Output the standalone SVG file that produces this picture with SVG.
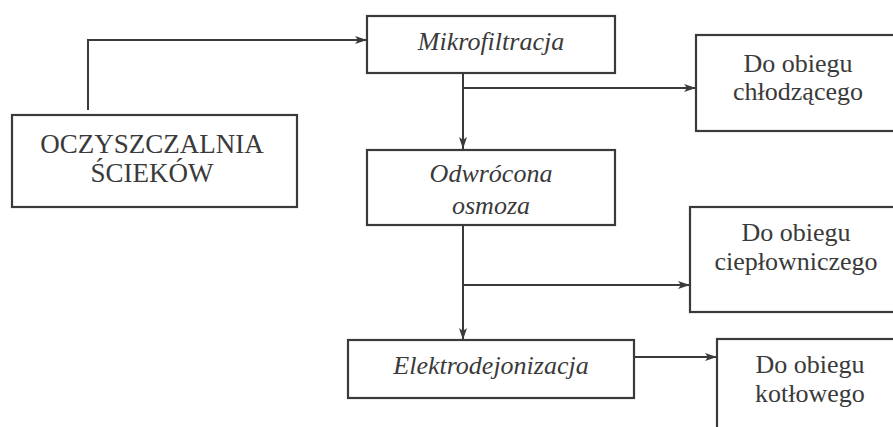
<svg xmlns="http://www.w3.org/2000/svg" width="893" height="427" viewBox="0 0 893 427">
<style>
.box{fill:#fff;stroke:#3a3a3a;stroke-width:2.2}
.t{font-size:26px;fill:#3a3a3a;text-anchor:middle}
.big{font-size:27px}
.i{font-style:italic}
.c{fill:none;stroke:#3a3a3a;stroke-width:2;marker-end:url(#ah)}
</style>
<defs>
<marker id="ah" markerWidth="13" markerHeight="10" refX="12" refY="5" orient="auto" markerUnits="userSpaceOnUse">
<path d="M0,1 L12,5 L0,9 L3,5 Z" fill="#3a3a3a"/>
</marker>
</defs>
<rect width="893" height="427" fill="#fff"/>
<g id="connectors">
<path class="c" d="M88,110 L88,40 L367,40"/>
<path class="c" d="M463,73 L463,149"/>
<path class="c" d="M463,88 L696,88"/>
<path class="c" d="M463,225 L463,340"/>
<path class="c" d="M463,285 L690,285"/>
<path class="c" d="M634,357 L717,357"/>
</g>
<g font-family="Liberation Serif, DejaVu Serif, serif">
<g id="oczyszczalnia">
<rect class="box" x="12" y="115" width="285" height="92"/>
<text class="t big" x="152" y="153">OCZYSZCZALNIA</text>
<text class="t big" x="152" y="182">ŚCIEKÓW</text>
</g>
<g id="mikrofiltracja">
<rect class="box" x="367" y="16" width="248" height="57"/>
<text class="t i" x="491" y="50">Mikrofiltracja</text>
</g>
<g id="chlodzacy">
<rect class="box" x="696" y="35" width="210" height="96"/>
<text class="t" x="798" y="72">Do obiegu</text>
<text class="t" x="798" y="100">chłodzącego</text>
</g>
<g id="osmoza">
<rect class="box" x="367" y="150" width="248" height="75"/>
<text class="t i" x="491" y="182">Odwrócona</text>
<text class="t i" x="491" y="214">osmoza</text>
</g>
<g id="cieplowniczy">
<rect class="box" x="690" y="207" width="215" height="105"/>
<text class="t" x="796" y="241">Do obiegu</text>
<text class="t" x="796" y="270">ciepłowniczego</text>
</g>
<g id="elektrodejonizacja">
<rect class="box" x="348" y="340" width="286" height="58"/>
<text class="t i" x="491" y="374">Elektrodejonizacja</text>
</g>
<g id="kotlowy">
<rect class="box" x="717" y="339" width="190" height="100"/>
<text class="t" x="810" y="373">Do obiegu</text>
<text class="t" x="810" y="402">kotłowego</text>
</g>
</g>
</svg>
